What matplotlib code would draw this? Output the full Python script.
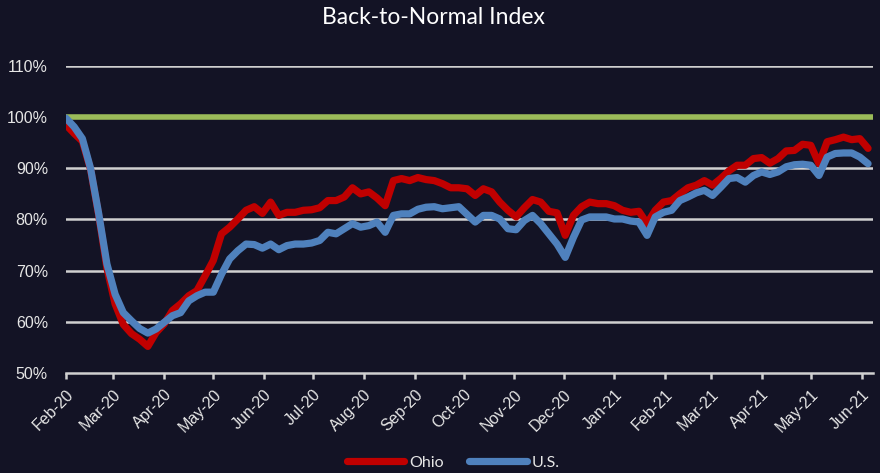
import numpy as np
import pandas as pd
import matplotlib
matplotlib.use('Agg')
import matplotlib.pyplot as plt
import matplotlib.dates as mdates

# 5-day samples, starting 1 Feb 2020
start='2020-02-01'
n_pts=99

ohio=[98.5,96.8,95.3,89.8,80.8,70.5,63.5,59.5,57.7,56.6,
      55.2,57.9,59.6,62.2,63.5,65.1,66.1,69.0,72.0,77.2,
      78.5,80.1,81.8,82.5,81.2,83.4,80.8,81.4,81.4,81.8,
      81.9,82.3,83.7,83.7,84.4,86.2,85.0,85.4,84.2,82.7,
      87.6,88.0,87.6,88.2,87.8,87.6,87.0,86.2,86.2,86.0,
      84.7,86.0,85.4,83.4,81.8,80.5,82.3,83.9,83.4,81.6,
      81.3,76.9,80.8,82.5,83.4,83.1,83.1,82.7,81.8,81.4,
      81.6,79.2,81.8,83.4,83.7,85.0,86.2,86.7,87.6,86.7,
      88.0,89.5,90.6,90.6,91.9,92.1,91.0,91.9,93.4,93.5,
      94.7,94.5,90.9,95.2,95.6,96.1,95.6,95.8,93.9]

us=[99.8,98.1,95.8,90.0,81.1,71.3,65.4,61.8,60.2,58.7,
    57.8,58.6,59.9,61.2,61.8,64.1,65.1,65.8,65.8,69.3,
    72.3,73.9,75.2,75.1,74.4,75.2,74.1,74.9,75.2,75.2,
    75.4,75.9,77.5,77.2,78.2,79.2,78.5,78.8,79.5,77.5,
    80.8,81.1,81.1,82.0,82.4,82.5,82.1,82.3,82.5,81.0,
    79.5,80.8,80.8,80.1,78.2,78.0,79.8,80.8,79.2,77.2,
    75.2,72.6,76.5,79.9,80.5,80.5,80.5,80.1,80.1,79.7,
    79.5,76.9,80.5,81.4,81.8,83.7,84.4,85.2,85.7,84.7,
    86.3,88.0,88.2,87.3,88.6,89.3,88.8,89.3,90.3,90.7,
    90.8,90.6,88.6,92.2,92.9,93.0,93.0,92.2,90.9]

baseline=100
yticks=[50,60,70,80,90,100,110]

bg='#131325'
txt='#e6e6e6'
grid='#d0d0d0'

dates=pd.date_range(start,periods=n_pts,freq='5D')
months=pd.date_range('2020-02-01','2021-06-01',freq='MS')

fig=plt.figure(figsize=(8.8,4.73),dpi=100,facecolor=bg)
ax=fig.add_axes([0.075,0.2114,0.917,0.6491],facecolor=bg)

for v in yticks[1:]:
    ax.axhline(v,color=grid,linewidth=1.8,zorder=1)

xend=pd.Timestamp('2021-06-08')
ax.plot([dates[0],xend],[baseline,baseline],color='#9bbb59',linewidth=4,
        solid_capstyle='round',zorder=2)
ax.plot(dates,ohio,color='#c00000',linewidth=5.2,label='Ohio',
        solid_capstyle='round',solid_joinstyle='round',zorder=3)
ax.plot(dates,us,color='#4f81bd',linewidth=5.2,label='U.S.',
        solid_capstyle='round',solid_joinstyle='round',zorder=4)

ax.set_xlim(pd.Timestamp(start),xend)
ax.set_ylim(50,110)
ax.set_yticks(yticks)
ax.set_yticklabels([str(v)+'%' for v in yticks],color=txt,
                   fontsize=11.5,family='Liberation Sans')
ax.tick_params(axis='y',length=0,pad=13)

ax.set_xticks(months)
ax.set_xticklabels([d.strftime('%b-%y') for d in months],rotation=45,
                   ha='right',rotation_mode='anchor',color=txt,
                   fontsize=11.5,family='Liberation Sans')
ax.tick_params(axis='x',length=4,width=1.8,color=grid,pad=6)

for s in ['top','right','left']:
    ax.spines[s].set_visible(False)
ax.spines['bottom'].set_color(grid)
ax.spines['bottom'].set_linewidth(1.8)

fig.text(0.493,0.962,'Back-to-Normal Index',ha='center',va='center',
         color='white',fontsize=16.5,family='Lato')

leg=fig.legend(loc='center',bbox_to_anchor=(0.515,0.022),ncol=2,
               frameon=False,handlelength=3.6,handletextpad=0.3,
               columnspacing=1.6,prop={'family':'Lato','size':11.5})
for t in leg.get_texts():
    t.set_color(txt)

fig.savefig('out.png',dpi=100,facecolor=bg)
